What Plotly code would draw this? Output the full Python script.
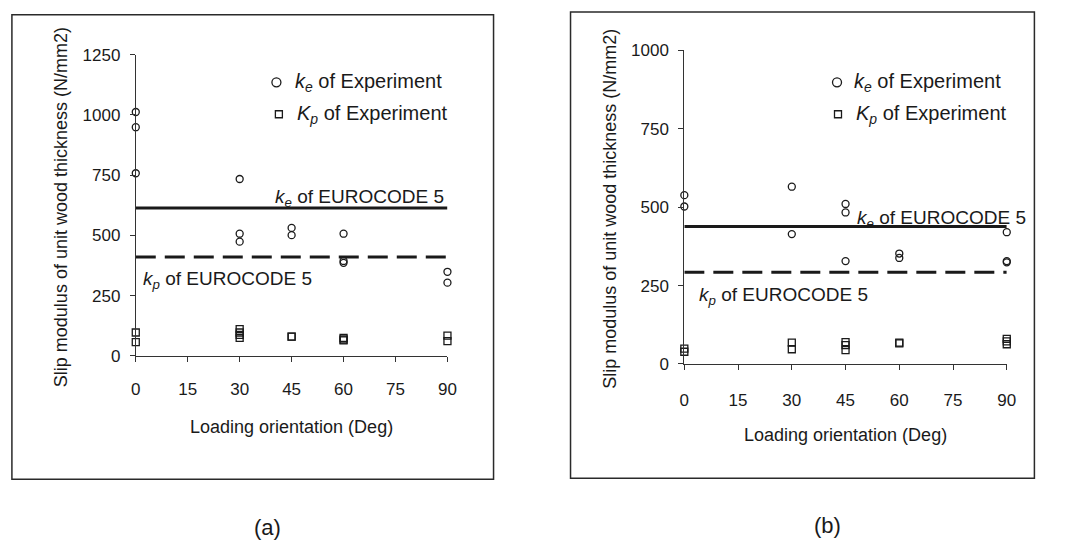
import plotly.graph_objects as go

# ---- data ----
angles_ticks = [0, 15, 30, 45, 60, 75, 90]

# panel (a)
ke_a_angle = [0, 0, 0, 30, 30, 30, 45, 45, 60, 60, 60, 90, 90]
ke_a_value = [1012, 949, 758, 734, 507, 474, 531, 501, 507, 394, 386, 349, 304]
kp_a_angle = [0, 0, 30, 30, 30, 30, 45, 45, 60, 60, 60, 90, 90]
kp_a_value = [97, 57, 111, 97, 87, 75, 80, 80, 75, 68, 64, 84, 61]
ke_a_ec5 = 614
kp_a_ec5 = 410
yticks_a = [0, 250, 500, 750, 1000, 1250]

# panel (b)
ke_b_angle = [0, 0, 30, 30, 45, 45, 45, 60, 60, 90, 90, 90]
ke_b_value = [538, 502, 565, 414, 510, 483, 328, 352, 338, 420, 328, 324]
kp_b_angle = [0, 0, 30, 30, 45, 45, 45, 60, 60, 90, 90, 90]
kp_b_value = [49, 39, 68, 47, 70, 60, 44, 68, 66, 80, 72, 63]
ke_b_ec5 = 438
kp_b_ec5 = 292
yticks_b = [0, 250, 500, 750, 1000]

W, H = 1074, 550
FONT = "Liberation Sans"
INK = "#1a1a1a"


def px(x):
    return x / W


def py(y):
    return (H - y) / H


fig = go.Figure()

panels = [
    dict(xa="x", ya="y", ke_x=ke_a_angle, ke_y=ke_a_value, kp_x=kp_a_angle, kp_y=kp_a_value,
         ke_ec=ke_a_ec5, kp_ec=kp_a_ec5),
    dict(xa="x2", ya="y2", ke_x=ke_b_angle, ke_y=ke_b_value, kp_x=kp_b_angle, kp_y=kp_b_value,
         ke_ec=ke_b_ec5, kp_ec=kp_b_ec5),
]

for p in panels:
    # EUROCODE 5 reference levels across the full angle range
    fig.add_trace(go.Scatter(x=[0, 90], y=[p["ke_ec"], p["ke_ec"]], mode="lines",
                             line=dict(color=INK, width=3), xaxis=p["xa"], yaxis=p["ya"],
                             showlegend=False, hoverinfo="skip"))
    fig.add_trace(go.Scatter(x=[0, 90], y=[p["kp_ec"], p["kp_ec"]], mode="lines",
                             line=dict(color=INK, width=3, dash="20px,9px"),
                             xaxis=p["xa"], yaxis=p["ya"], showlegend=False, hoverinfo="skip"))
    # experimental slip moduli
    fig.add_trace(go.Scatter(x=p["ke_x"], y=p["ke_y"], mode="markers",
                             marker=dict(symbol="circle-open", size=7, color=INK, line=dict(width=1.3)),
                             xaxis=p["xa"], yaxis=p["ya"], showlegend=False, cliponaxis=False))
    fig.add_trace(go.Scatter(x=p["kp_x"], y=p["kp_y"], mode="markers",
                             marker=dict(symbol="square-open", size=7, color=INK, line=dict(width=1.3)),
                             xaxis=p["xa"], yaxis=p["ya"], showlegend=False, cliponaxis=False))

axis_common = dict(showgrid=False, zeroline=False, showline=True, linecolor="#333333", linewidth=1,
                   ticks="outside", ticklen=5, tickcolor="#333333", tickwidth=1,
                   tickfont=dict(family=FONT, size=17, color=INK))

fig.update_layout(
    width=W, height=H, margin=dict(l=0, r=0, t=0, b=0),
    paper_bgcolor="white", plot_bgcolor="white", showlegend=False,
    xaxis=dict(domain=[px(132.5), px(448.3)], range=[0, 90], tickvals=angles_ticks,
               anchor="y", ticklabelstandoff=13, **axis_common),
    yaxis=dict(domain=[py(359.3), py(47.3)], range=[0, 1250], tickvals=yticks_a,
               anchor="x", ticklabelstandoff=6, **axis_common),
    xaxis2=dict(domain=[px(688.3), px(1015)], range=[0, 90], tickvals=angles_ticks,
                anchor="y2", ticklabelstandoff=16, **axis_common),
    yaxis2=dict(domain=[py(367.7), py(42.7)], range=[0, 1000], tickvals=yticks_b,
                anchor="x2", ticklabelstandoff=6, **axis_common),
)

shapes = []
# panel frames
for (x0, y0, x1, y1) in [(7, 6, 495, 487), (573, 3, 1043, 486)]:
    shapes.append(dict(type="rect", xref="paper", yref="paper",
                       x0=px(x0), x1=px(x1), y0=py(y1), y1=py(y0),
                       line=dict(color="#2a2a2a", width=1.5)))

annotations = []
legend_font = dict(family=FONT, size=20, color=INK)
label_font = dict(family=FONT, size=19, color=INK)


def legend_entry(cx, cy, symbol, text, tx):
    if symbol == "circle":
        shapes.append(dict(type="circle", xref="paper", yref="paper",
                           xsizemode="pixel", ysizemode="pixel",
                           xanchor=px(cx), yanchor=py(cy), x0=-4.5, x1=4.5, y0=-4.5, y1=4.5,
                           line=dict(color=INK, width=1.3)))
    else:
        shapes.append(dict(type="rect", xref="paper", yref="paper",
                           xsizemode="pixel", ysizemode="pixel",
                           xanchor=px(cx), yanchor=py(cy), x0=-3.5, x1=3.5, y0=-3.5, y1=3.5,
                           line=dict(color=INK, width=1.3)))
    annotations.append(dict(xref="paper", yref="paper", x=px(tx), y=py(cy), text=text,
                            xanchor="left", yanchor="middle", showarrow=False, font=legend_font))


ke_exp = "<i>k<sub>e</sub></i> of Experiment"
kp_exp = "<i>K<sub>p</sub></i> of Experiment"
ke_ec5 = "<i>k<sub>e</sub></i> of EUROCODE 5"
kp_ec5 = "<i>k<sub>p</sub></i> of EUROCODE 5"

legend_entry(275, 76, "circle", ke_exp, 292)
legend_entry(277.5, 109, "square", kp_exp, 294)
legend_entry(843, 76, "circle", ke_exp, 858)
legend_entry(844, 109, "square", kp_exp, 860)

# EUROCODE 5 labels
annotations += [
    dict(xref="paper", yref="paper", x=px(447), y=py(196), text=ke_ec5, xanchor="right",
         yanchor="middle", showarrow=False, font=label_font),
    dict(xref="paper", yref="paper", x=px(138), y=py(281), text=kp_ec5, xanchor="left",
         yanchor="middle", showarrow=False, font=label_font),
    dict(xref="paper", yref="paper", x=px(1037), y=py(217), text=ke_ec5, xanchor="right",
         yanchor="middle", showarrow=False, font=label_font),
    dict(xref="paper", yref="paper", x=px(701), y=py(297), text=kp_ec5, xanchor="left",
         yanchor="middle", showarrow=False, font=label_font),
]

# axis titles
ytitle = "Slip modulus of unit wood thickness (N/mm2)"
xtitle = "Loading orientation (Deg)"
title_font = dict(family=FONT, size=18, color=INK)
annotations += [
    dict(xref="paper", yref="paper", x=px(290.4), y=py(433), text=xtitle, showarrow=False,
         xanchor="center", yanchor="middle", font=title_font),
    dict(xref="paper", yref="paper", x=px(851.6), y=py(441), text=xtitle, showarrow=False,
         xanchor="center", yanchor="middle", font=title_font),
    dict(xref="paper", yref="paper", x=px(57), y=py(205), text=ytitle, showarrow=False,
         textangle=-90, xanchor="center", yanchor="middle", font=title_font),
    dict(xref="paper", yref="paper", x=px(613), y=py(207), text=ytitle, showarrow=False,
         textangle=-90, xanchor="center", yanchor="middle", font=title_font),
]

# panel captions
cap_font = dict(family=FONT, size=22, color=INK)
annotations += [
    dict(xref="paper", yref="paper", x=px(266), y=py(537), text="(a)", showarrow=False,
         xanchor="center", yanchor="middle", font=cap_font),
    dict(xref="paper", yref="paper", x=px(833), y=py(535), text="(b)", showarrow=False,
         xanchor="center", yanchor="middle", font=cap_font),
]

fig.update_layout(shapes=shapes, annotations=annotations)
fig.write_html("out.html")
